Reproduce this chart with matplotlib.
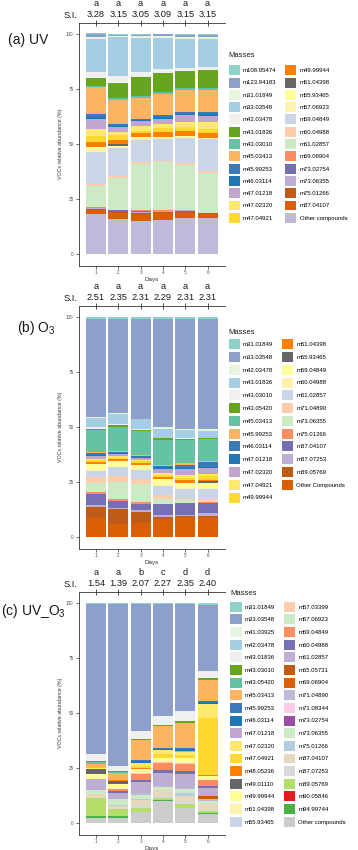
import numpy as np
import matplotlib.pyplot as plt
from matplotlib.patches import Patch

plt.rcParams['font.family'] = ['Liberation Sans', 'DejaVu Sans']
plt.rcParams['mathtext.fontset'] = 'custom'
plt.rcParams['mathtext.rm'] = 'Liberation Sans'
plt.rcParams['mathtext.it'] = 'Liberation Sans:italic'

days = [1, 2, 3, 4, 5, 6]

# colours are given in legend order (first legend entry -> first colour)
palette = ['#8dd3c7', '#8da0cb', '#e5f5e0', '#a6cee3', '#f0f0f0', '#66a61e',
           '#66c2a5', '#fdb462', '#3a7ab8', '#1f78b4', '#c2a5cf', '#ffe86e',
           '#ffd92f', '#ff7f00', '#666666', '#ffff99', '#fff2ae', '#cbd5e8',
           '#fdcdac', '#ccebc5', '#fc8d62', '#7570b3', '#beaed4', '#bf5b17',
           '#d95f02', '#bebada', '#fccde5', '#984ea3', '#ccebc5', '#b3cde3',
           '#e5d8bd', '#d9d9d9', '#b3de69', '#e41a1c', '#4daf4a', '#cccccc']

# ---- (a) UV
uv_masses = ['m108.95474', 'm123.94183', 'm31.01849', 'm33.03548', 'm42.03478',
             'm43.01836', 'm43.03010', 'm45.03413', 'm45.99253', 'm46.03114',
             'm47.01218', 'm47.02320', 'm47.04921', 'm49.99944', 'm51.04398',
             'm55.93465', 'm57.06923', 'm59.04849', 'm60.04988', 'm61.02857',
             'm69.06904', 'm73.02754', 'm73.06355', 'm75.01266', 'm87.04107',
             'Other compounds']
uv_letters = ['a', 'a', 'a', 'a', 'a', 'a']
uv_si = [3.28, 3.15, 3.05, 3.09, 3.15, 3.15]
# one row per day, values in legend order
uv_values = [
    [0.5, 1.0, 1.2, 15.0, 2.6, 3.7, 0.5, 12.4, 1.0, 1.2, 4.2, 3.3, 3.0, 2.3, 0.0,
     1.0, 1.2, 14.3, 1.0, 9.5, 0.3, 0.2, 0.3, 0.8, 1.5, 18.3],
    [0.3, 0.2, 0.6, 17.9, 2.9, 6.8, 0.9, 11.2, 0.8, 0.7, 2.0, 1.5, 2.3, 1.5, 1.0,
     0.7, 0.5, 12.6, 0.7, 14.8, 0.1, 0.1, 0.1, 1.0, 2.5, 16.1],
    [0.3, 0.2, 1.1, 15.4, 2.3, 8.8, 1.0, 9.2, 0.6, 0.5, 2.1, 2.3, 1.2, 1.5, 0.0,
     0.7, 0.6, 10.3, 0.7, 21.2, 0.2, 0.5, 0.4, 0.5, 3.0, 15.2],
    [0.2, 0.6, 0.9, 14.4, 1.8, 8.3, 1.2, 9.4, 0.9, 0.8, 2.3, 2.1, 1.7, 2.3, 0.0,
     0.5, 0.5, 9.8, 0.7, 21.7, 0.2, 0.2, 0.3, 0.7, 3.0, 15.5],
    [0.4, 1.0, 0.9, 13.0, 1.5, 7.7, 1.0, 9.8, 0.8, 0.8, 3.0, 2.3, 1.8, 2.4, 0.0,
     0.4, 0.4, 11.4, 0.7, 20.4, 0.0, 0.2, 0.3, 1.0, 2.2, 16.5],
    [0.4, 1.0, 1.0, 12.6, 1.5, 8.0, 0.8, 10.2, 1.0, 0.9, 2.6, 3.0, 2.0, 2.1, 0.0,
     0.4, 0.4, 14.4, 0.7, 18.3, 0.2, 0.0, 0.0, 0.5, 1.8, 16.2],
]

# ---- (b) O3
o3_masses = ['m31.01849', 'm33.03548', 'm42.03478', 'm43.01836', 'm43.03010',
             'm43.05420', 'm45.03413', 'm45.99253', 'm46.03114', 'm47.01218',
             'm47.02320', 'm47.04921', 'm49.99944', 'm51.04398', 'm55.93465',
             'm59.04849', 'm60.04988', 'm61.02857', 'm71.04890', 'm73.06355',
             'm75.01266', 'm87.04107', 'm87.07253', 'm89.05769', 'Other Compounds']
o3_letters = ['a', 'a', 'a', 'a', 'a', 'a']
o3_si = [2.51, 2.35, 2.31, 2.29, 2.31, 2.31]
o3_values = [
    [0.9, 44.5, 0.6, 3.9, 1.0, 0.7, 9.8, 0.4, 0.8, 0.5, 1.4, 0.7, 0.7, 0.8, 0.0,
     2.3, 0.8, 3.0, 2.6, 4.2, 0.7, 5.3, 1.0, 5.0, 8.4],
    [0.9, 43.0, 0.4, 4.5, 0.6, 0.7, 10.8, 0.4, 0.6, 0.4, 1.2, 0.6, 0.6, 1.0, 0.0,
     2.3, 0.5, 3.8, 3.0, 7.6, 0.7, 3.3, 0.7, 6.5, 6.0],
    [0.9, 45.3, 0.4, 4.1, 0.5, 0.6, 10.8, 0.4, 0.7, 0.3, 1.0, 0.6, 0.6, 0.9, 0.0,
     2.1, 0.5, 3.8, 2.3, 8.3, 0.7, 3.0, 0.7, 5.3, 6.2],
    [0.9, 49.5, 0.7, 3.9, 0.3, 0.7, 11.5, 0.4, 0.7, 0.8, 1.8, 0.8, 0.8, 1.0, 0.2,
     2.7, 0.5, 4.1, 1.5, 2.3, 0.3, 4.8, 0.8, 1.2, 8.0],
    [0.9, 50.0, 0.6, 3.5, 0.3, 0.3, 10.8, 0.6, 1.5, 0.3, 3.0, 1.2, 1.2, 1.0, 0.0,
     2.5, 0.5, 4.5, 0.5, 1.2, 0.2, 5.3, 0.7, 0.3, 9.0],
    [0.9, 49.9, 0.7, 3.2, 0.3, 0.3, 10.0, 0.6, 2.1, 0.3, 3.0, 1.0, 1.7, 0.5, 0.6,
     2.5, 0.5, 4.5, 1.0, 0.5, 0.2, 4.8, 1.2, 0.3, 9.2],
]

# ---- (c) UV_O3
uvo3_masses = ['m31.01849', 'm33.03548', 'm41.03925', 'm42.03478', 'm43.01836',
               'm43.03010', 'm43.05420', 'm45.03413', 'm45.99253', 'm46.03114',
               'm47.01218', 'm47.02320', 'm47.04921', 'm48.05236', 'm49.01110',
               'm49.99944', 'm51.04398', 'm55.93465', 'm57.03399', 'm57.06923',
               'm59.04849', 'm60.04988', 'm61.02857', 'm65.05731', 'm69.06904',
               'm71.04890', 'm71.08344', 'm73.02754', 'm73.06355', 'm75.01266',
               'm87.04107', 'm87.07253', 'm89.05769', 'm90.05846', 'm94.99744',
               'Other compounds']
uvo3_letters = ['a', 'a', 'b', 'c', 'd', 'd']
uvo3_si = [1.54, 1.39, 2.07, 2.27, 2.35, 2.40]
uvo3_values = [
    [0.5, 68.0, 0.0, 0.0, 3.3, 0.5, 1.0, 1.5, 0.0, 0.0, 0.0, 0.8, 0.0, 0.0, 2.3,
     1.9, 0.0, 0.0, 0.0, 0.0, 0.4, 0.0, 4.8, 0.0, 0.0, 0.0, 0.0, 0.0, 2.0, 0.0,
     1.5, 0.0, 8.3, 0.0, 0.8, 2.4],
    [0.5, 73.6, 0.0, 0.0, 2.0, 0.5, 0.5, 3.4, 0.0, 0.0, 0.0, 0.0, 0.0, 0.3, 1.2,
     2.0, 0.3, 0.0, 0.3, 0.0, 0.8, 0.7, 2.7, 0.0, 0.0, 0.0, 0.0, 0.0, 3.0, 0.4,
     1.5, 0.0, 3.0, 0.0, 0.8, 2.4],
    [0.5, 57.7, 0.0, 0.0, 3.5, 0.6, 0.0, 9.1, 0.6, 0.6, 0.3, 1.2, 1.0, 0.3, 0.0,
     1.2, 0.5, 0.3, 0.2, 0.0, 2.9, 0.9, 4.8, 0.3, 0.0, 0.6, 0.3, 0.0, 1.6, 0.5,
     2.5, 1.0, 2.0, 0.0, 0.2, 4.8],
    [0.5, 50.9, 0.0, 0.0, 4.1, 0.3, 0.0, 10.0, 0.5, 0.5, 0.2, 1.8, 1.5, 0.2, 0.0,
     1.3, 0.5, 0.2, 0.2, 0.0, 3.2, 1.2, 6.1, 0.2, 0.0, 0.2, 0.0, 0.0, 1.4, 0.2,
     2.5, 0.8, 1.2, 0.0, 0.1, 10.2],
    [0.5, 48.6, 0.0, 0.0, 4.5, 0.8, 0.0, 11.4, 0.7, 0.8, 0.3, 1.5, 1.3, 0.2, 0.0,
     1.5, 0.5, 0.2, 0.2, 0.0, 3.4, 1.2, 6.3, 0.3, 0.0, 0.2, 0.3, 0.0, 1.5, 1.5,
     2.5, 1.3, 1.8, 0.0, 0.1, 6.6],
    [0.8, 30.3, 0.0, 0.0, 3.0, 0.8, 0.0, 9.8, 0.6, 0.7, 0.2, 6.1, 25.8, 0.7, 0.0,
     1.2, 0.4, 0.0, 0.2, 0.0, 2.8, 0.7, 3.8, 0.8, 0.4, 0.8, 0.2, 0.1, 1.2, 0.3,
     2.5, 0.5, 1.0, 0.1, 0.1, 4.2],
]

W, H = 358, 850
fig = plt.figure(figsize=(W / 100, H / 100), dpi=100)

ink = '#1a1a1a'


def draw_panel(top_px, masses, values, letters, si, title, title_xy, title_leg_xy,
               leg_xy, leg_space):
    bottom_px = top_px + 242.6
    ax = fig.add_axes([78.5 / W, 1 - bottom_px / H, 146.5 / W, 242.6 / H])
    vals = np.array(values).T
    base = np.zeros(len(days))
    # ggplot stacks the first level on top, so draw from the last level up
    for i in range(len(masses) - 1, -1, -1):
        ax.bar(days, vals[i], width=0.9, bottom=base, color=palette[i], linewidth=0)
        base += vals[i]
    ax.set_xlim(0.22, 6.78)
    ax.set_ylim(-5.3, 105)
    ax.set_yticks([0, 25, 50, 75, 100])
    ax.set_xticks(days)
    for s in ['top', 'right']:
        ax.spines[s].set_visible(False)
    for s in ['left', 'bottom']:
        ax.spines[s].set_linewidth(0.6)
        ax.spines[s].set_color('#333333')
    ax.tick_params(labelsize=3.3, length=2, width=0.5, color='#333333',
                   labelcolor='#4d4d4d', pad=1.5)
    ax.set_xlabel('Days', fontsize=4.5, color='#333333', labelpad=1)
    ax.set_ylabel('VOCs relative abundance (%)', fontsize=3.8, color='#333333', labelpad=2)

    sec = ax.secondary_xaxis('top')
    sec.set_xticks(days)
    sec.set_xticklabels([f'{l}\n{v:.2f}' for l, v in zip(letters, si)], fontsize=6.7, color=ink)
    sec.tick_params(direction='inout', length=4, width=0.6, color='#333333', pad=1)
    sec.spines['top'].set_linewidth(0.6)
    sec.spines['top'].set_color('#333333')
    ax.text(-0.005, 1.03, 'S.I.', transform=ax.transAxes, ha='right', va='center',
            fontsize=6.7, color=ink)

    fig.text(title_xy[0] / W, 1 - title_xy[1] / H, title, fontsize=10, ha='left',
             va='center', color=ink)

    fig.text(title_leg_xy[0] / W, 1 - title_leg_xy[1] / H, 'Masses', fontsize=5.5,
             ha='left', va='center', color=ink)
    handles = [Patch(facecolor=palette[i], edgecolor='none') for i in range(len(masses))]
    ax.legend(handles, masses, ncol=2, loc='upper left',
              bbox_to_anchor=(leg_xy[0] / W, 1 - leg_xy[1] / H),
              bbox_transform=fig.transFigure, frameon=False, fontsize=4.3,
              handlelength=1.85, handleheight=2.19, labelspacing=leg_space,
              handletextpad=0.55, columnspacing=1.5, borderpad=0, borderaxespad=0)
    return ax


draw_panel(23, uv_masses, uv_values, uv_letters, uv_si, '(a) UV', (8, 40),
           (228, 55.7), (228.5, 65.3), 0.39)
draw_panel(306, o3_masses, o3_values, o3_letters, o3_si, '(b) O$_3$', (17, 328),
           (228, 332.3), (228.5, 339.3), 0.47)
draw_panel(592, uvo3_masses, uvo3_values, uvo3_letters, uvo3_si, '(c) UV_O$_3$', (1, 611),
           (230.5, 593.3), (230.5, 601.7), 0.45)

fig.savefig('out.png', dpi=100)
